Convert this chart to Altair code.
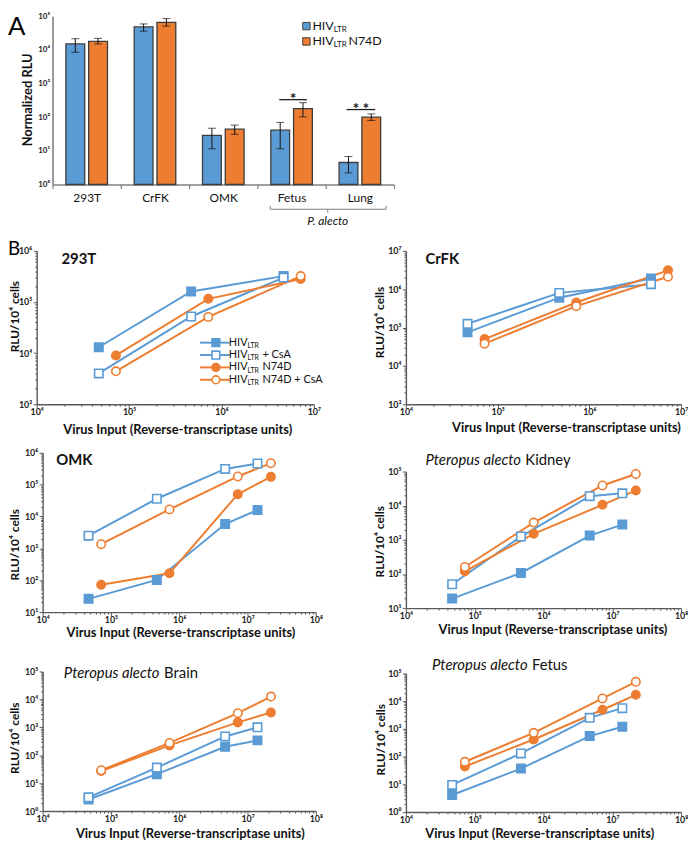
import altair as alt
import pandas as pd

FONT = "Lato"
BLUE = "#5B9BD5"
ORANGE = "#ED7D31"
AXC = "#595959"
W, H = 680, 830

# ---------------- Panel A data ----------------
cells = ["293T", "CrFK", "OMK", "Fetus", "Lung"]
series_A = ["HIV_LTR", "HIV_LTR N74D"]
hiv_mean = [1.5e4, 4.8e4, 29, 41, 4.5]
hiv_low = [8.5e3, 3.6e4, 11.5, 11.5, 2.2]
hiv_high = [2.15e4, 5.9e4, 47, 70, 6.8]
n74d_mean = [1.8e4, 6.6e4, 44, 180, 100]
n74d_low = [1.5e4, 5.1e4, 31, 102, 80]
n74d_high = [2.2e4, 8.5e4, 58, 270, 125]

# ---------------- Panel B data ----------------
series_B = ["HIV_LTR", "HIV_LTR + CsA", "HIV_LTR N74D", "HIV_LTR N74D + CsA"]
x_hiv_3 = [4.7e4, 4.7e5, 4.7e6]
x_n74d_3 = [7.2e4, 7.2e5, 7.2e6]
x_hiv_4 = [4.7e4, 4.7e5, 4.7e6, 1.4e7]
x_n74d_4 = [7.2e4, 7.2e5, 7.2e6, 2.2e7]

t293_hiv = [1.3e4, 1.6e5, 3.2e5]
t293_hiv_csa = [4.0e3, 5.2e4, 3.0e5]
t293_n74d = [9.0e3, 1.15e5, 2.8e5]
t293_n74d_csa = [4.4e3, 5.1e4, 3.2e5]

crfk_hiv = [7.5e4, 6.0e5, 1.9e6]
crfk_hiv_csa = [1.25e5, 8.0e5, 1.35e6]
crfk_n74d = [5.0e4, 4.5e5, 3.1e6]
crfk_n74d_csa = [3.8e4, 3.6e5, 2.1e6]

omk_hiv = [26, 102, 5.8e3, 1.6e4]
omk_hiv_csa = [2.5e3, 3.6e4, 3.1e5, 4.6e5]
omk_n74d = [72, 165, 5.0e4, 1.75e5]
omk_n74d_csa = [1.35e3, 1.66e4, 1.8e5, 4.7e5]

kid_hiv = [19, 107, 1.33e3, 2.8e3]
kid_hiv_csa = [50, 1.25e3, 1.9e4, 2.3e4]
kid_n74d = [120, 1.5e3, 1.06e4, 2.8e4]
kid_n74d_csa = [160, 3.2e3, 3.9e4, 8.5e4]

brain_hiv = [2.6, 21, 200, 340]
brain_hiv_csa = [3.1, 36, 470, 1.0e3]
brain_n74d = [27, 225, 1.5e3, 3.4e3]
brain_n74d_csa = [29, 275, 3.2e3, 1.26e4]

fetus_hiv = [4.1, 37, 550, 1.2e3]
fetus_hiv_csa = [9.5, 130, 2.5e3, 5.6e3]
fetus_n74d = [44, 415, 4.9e3, 1.7e4]
fetus_n74d_csa = [65, 720, 1.25e4, 5.0e4]

LABEL = ("'10' + substring('⁰¹²³⁴⁵⁶⁷⁸⁹', round(log(datum.value)/LN10), "
         "round(log(datum.value)/LN10) + 1)")


def majors(lo, hi):
    return [10.0 ** k for k in range(lo, hi + 1)]


def minors(lo, hi):
    return [m * 10.0 ** k for k in range(lo, hi) for m in range(2, 10)]


def one():
    return pd.DataFrame({"d": [0]})


def text(label, x, y, size=12, weight="normal", style="normal", align="left",
         baseline="middle", color="#111111"):
    return alt.Chart(pd.DataFrame({"t": [label]})).mark_text(
        align=align, baseline=baseline, fontSize=size, fontWeight=weight,
        fontStyle=style, font=FONT, color=color
    ).encode(x=alt.value(x), y=alt.value(y), text="t:N")


def seg(x1, y1, x2, y2, color="#111111", width=1.0):
    return alt.Chart(one()).mark_rule(color=color, strokeWidth=width).encode(
        x=alt.value(x1), x2=alt.value(x2), y=alt.value(y1), y2=alt.value(y2))


def marker(x, y, shape, fill, stroke, size, sw=1.5):
    return alt.Chart(one()).mark_point(shape=shape, fill=fill, stroke=stroke, size=size,
                                       strokeWidth=sw, opacity=1, filled=False).encode(
        x=alt.value(x), y=alt.value(y))


# ---------------- Panel A ----------------
dfA = pd.DataFrame({
    "cell": cells * 2,
    "series": [series_A[0]] * 5 + [series_A[1]] * 5,
    "val": hiv_mean + n74d_mean,
    "lo": hiv_low + n74d_low,
    "hi": hiv_high + n74d_high,
})
xA_scale = alt.Scale(domain=cells, range=[45, 390], paddingInner=0, paddingOuter=0)
xoff_scale = alt.Scale(domain=series_A, paddingInner=0.174, paddingOuter=0.587)
yA_scale = alt.Scale(type="log", domain=[1, 1e5], range=[173, 3], nice=False)
xA_axis = alt.Axis(orient="bottom", offset=173 - H, title=None, tickBand="extent",
                   tickSize=4, labelPadding=9, labelBaseline="middle", labelAngle=0,
                   labelFont=FONT, labelFontSize=12, labelColor="#111111",
                   domainColor="#808080", domainWidth=1.6, tickColor="#808080", tickWidth=1.2,
                   grid=False)
yA_axis = alt.Axis(orient="left", offset=-45, values=majors(0, 5),
                   labelExpr=LABEL, tickSize=0, labelPadding=3, labelFont=FONT,
                   labelFontSize=8, labelFontWeight="bold", labelColor="#222222",
                   labelOverlap=False, domainColor="#808080", domainWidth=1.6, grid=False,
                   title="Normalized RLU", titleFont=FONT, titleFontSize=13,
                   titleFontWeight="bold", titleColor="#111111", titleAngle=-90,
                   titleX=-25.5, titleY=87, titleAlign="center", titleBaseline="middle")

xA = alt.X("cell:N", scale=xA_scale, axis=xA_axis)
xoffA = alt.XOffset("series:N", scale=xoff_scale)
baseA = alt.Chart(dfA)
bars = baseA.mark_bar(stroke="#3d3d3d", strokeWidth=1.3).encode(
    x=xA, xOffset=xoffA,
    y=alt.Y("val:Q", scale=yA_scale, axis=yA_axis),
    y2=alt.datum(1),
    color=alt.Color("series:N", scale=alt.Scale(domain=series_A, range=[BLUE, ORANGE]), legend=None),
)
err = baseA.mark_rule(color="#111111", strokeWidth=1).encode(
    x=xA, xOffset=xoffA,
    y=alt.Y("lo:Q", scale=yA_scale, axis=yA_axis),
    y2="hi:Q",
)
cap_lo = baseA.mark_tick(color="#111111", thickness=1, size=8, orient="horizontal").encode(
    x=xA, xOffset=xoffA,
    y=alt.Y("lo:Q", scale=yA_scale, axis=yA_axis),
)
cap_hi = baseA.mark_tick(color="#111111", thickness=1, size=8, orient="horizontal").encode(
    x=xA, xOffset=xoffA,
    y=alt.Y("hi:Q", scale=yA_scale, axis=yA_axis),
)
panelA = alt.layer(bars, err, cap_lo, cap_hi)

annA = [
    text("A", 0, 22, size=26, baseline="alphabetic", color="#000000"),
    # bracket for P. alecto
    seg(265, 198, 382, 198, "#808080", 1),
    seg(265, 194.5, 265, 198, "#808080", 1),
    seg(382, 194.5, 382, 198, "#808080", 1),
    seg(323, 198, 323, 201.5, "#808080", 1),
    text("P. alecto", 323, 210, size=12, style="italic", align="center"),
    # significance
    seg(274, 87.3, 302, 87.3, "#222222", 1.3),
    text("*", 288, 92, size=15, weight="bold", align="center", baseline="alphabetic"),
    seg(342, 97.3, 371, 97.3, "#222222", 1.3),
    text("* *", 356.5, 102, size=15, weight="bold", align="center", baseline="alphabetic"),
    # legend A
    marker(301.5, 13, "square", BLUE, "#404040", 56, 1),
    marker(301.5, 28.5, "square", ORANGE, "#404040", 56, 1),
    text("HIV", 329, 13, size=12.5, align="right"),
    text("LTR", 329, 17, size=8),
    text("HIV", 329, 28.5, size=12.5, align="right"),
    text("LTR", 329, 32.5, size=8),
    text("N74D", 344, 28.5, size=12.5),
]


# ---------------- Panel B ----------------
def panel_B(xh, xn, vals, xexp, yexp, xr, yr, xt_x, xt_dy, yt_dx, yt_y):
    xs_list = [xh, xh, xn, xn]
    rows = []
    for s, xs, v in zip(series_B, xs_list, vals):
        for a, b in zip(xs, v):
            rows.append({"x": a, "y": b, "s": s})
    df = pd.DataFrame(rows)
    xscale = alt.Scale(type="log", domain=[10.0 ** xexp[0], 10.0 ** xexp[1]], range=xr, nice=False)
    yscale = alt.Scale(type="log", domain=[10.0 ** yexp[0], 10.0 ** yexp[1]], range=yr, nice=False)
    common = dict(labelFont=FONT, labelFontSize=9, labelFontWeight="bold", labelColor="#222222",
                  labelOverlap=False, labelFlush=False, domainColor=AXC, domainWidth=1.4,
                  tickColor=AXC, tickWidth=1, grid=False)
    xaxis = alt.Axis(orient="bottom", offset=yr[0] - H, values=majors(*xexp), labelExpr=LABEL,
                     tickSize=4, labelPadding=3.5, labelBaseline="middle",
                     title="Virus Input (Reverse-transcriptase units)", titleFont=FONT,
                     titleFontSize=13, titleFontWeight="bold", titleColor="#111111",
                     titleX=xt_x, titleY=xt_dy, titleAlign="center", titleBaseline="middle",
                     **common)
    yaxis = alt.Axis(orient="left", offset=-xr[0], values=majors(*yexp), labelExpr=LABEL,
                     tickSize=3.5, labelPadding=1.5, labelBaseline="middle",
                     title="RLU/10⁴ cells", titleFont=FONT, titleFontSize=12,
                     titleFontWeight="bold", titleColor="#111111", titleAngle=-90,
                     titleX=yt_dx, titleY=yt_y, titleAlign="center", titleBaseline="middle",
                     **common)
    xminor = alt.Axis(orient="bottom", offset=yr[0] - H, values=minors(*xexp), labels=False,
                      domain=False, tickSize=2, tickColor=AXC, tickWidth=1, grid=False, title=None)
    yminor = alt.Axis(orient="left", offset=-xr[0], values=minors(*yexp), labels=False,
                      domain=False, tickSize=2, tickColor=AXC, tickWidth=1, grid=False, title=None)
    base = alt.Chart(df)
    lines = base.mark_line(strokeWidth=2).encode(
        x=alt.X("x:Q", scale=xscale, axis=xaxis),
        y=alt.Y("y:Q", scale=yscale, axis=yaxis),
        color=alt.Color("s:N", scale=alt.Scale(domain=series_B, range=[BLUE, BLUE, ORANGE, ORANGE]),
                        legend=None),
    )
    pts = base.mark_point(size=72, strokeWidth=1.6, opacity=1).encode(
        x=alt.X("x:Q", scale=xscale, axis=xaxis),
        y=alt.Y("y:Q", scale=yscale, axis=yaxis),
        shape=alt.Shape("s:N", scale=alt.Scale(domain=series_B,
                                               range=["square", "square", "circle", "circle"]),
                        legend=None),
        stroke=alt.Stroke("s:N", scale=alt.Scale(domain=series_B,
                                                 range=[BLUE, BLUE, ORANGE, ORANGE]), legend=None),
        fill=alt.Fill("s:N", scale=alt.Scale(domain=series_B,
                                             range=[BLUE, "#ffffff", ORANGE, "#ffffff"]), legend=None),
    )
    minor = base.mark_point(opacity=0).encode(
        x=alt.X("x:Q", scale=xscale, axis=xminor),
        y=alt.Y("y:Q", scale=yscale, axis=yminor),
    )
    return alt.layer(lines, pts), minor


p293 = panel_B(x_hiv_3, x_n74d_3, [t293_hiv, t293_hiv_csa, t293_n74d, t293_n74d_csa],
               (4, 7), (3, 6), [29, 309], [395, 240], 171, 25.3, -22.5, 306)
pcrfk = panel_B(x_hiv_3, x_n74d_3, [crfk_hiv, crfk_hiv_csa, crfk_n74d, crfk_n74d_csa],
                (4, 7), (3, 7), [402, 680], [395, 240], 563.7, 23.7, -27, 312)
pomk = panel_B(x_hiv_4, x_n74d_4, [omk_hiv, omk_hiv_csa, omk_n74d, omk_n74d_csa],
               (4, 8), (1, 6), [35, 311], [605, 444], 174.2, 20.5, -28.5, 536.5)
pkid = panel_B(x_hiv_4, x_n74d_4, [kid_hiv, kid_hiv_csa, kid_n74d, kid_n74d_csa],
               (4, 8), (1, 5), [402, 680], [601, 463], 550, 21.7, -27, 533.5)
pbrain = panel_B(x_hiv_4, x_n74d_4, [brain_hiv, brain_hiv_csa, brain_n74d, brain_n74d_csa],
                 (4, 8), (0, 5), [35, 311], [806, 665], 183.7, 22.7, -28.5, 732)
pfetus = panel_B(x_hiv_4, x_n74d_4, [fetus_hiv, fetus_hiv_csa, fetus_n74d, fetus_n74d_csa],
                 (4, 8), (0, 5), [402, 680], [807, 667], 536.7, 21.7, -26, 733.5)

panels_B = []
for main, minor in [p293, pcrfk, pomk, pkid, pbrain, pfetus]:
    panels_B += [minor, main]

annB = [
    text("B", 0, 244, size=19, baseline="alphabetic", color="#000000"),
    text("293T", 54, 248, size=15, weight="bold"),
    text("CrFK", 421.7, 248, size=15, weight="bold"),
    text("OMK", 48.7, 451.3, size=15, weight="bold"),
    text("Pteropus alecto", 518.3, 451.3, size=15, style="italic", align="right"),
    text("Kidney", 522.7, 451.3, size=15),
    text("Pteropus alecto", 153, 667, size=15, style="italic", align="right"),
    text("Brain", 157.7, 667, size=15),
    text("Pteropus alecto", 525, 658.7, size=15, style="italic", align="right"),
    text("Fetus", 529.3, 658.7, size=15),
]

leg_rows = [332.8, 345.3, 357.8, 370.3]
leg_style = [("square", BLUE, BLUE, 62), ("square", "#ffffff", BLUE, 62),
             ("circle", ORANGE, ORANGE, 62), ("circle", "#ffffff", ORANGE, 62)]
leg_suffix = ["", "+ CsA", "N74D", "N74D + CsA"]
legB = []
for yy, (shp, fl, st, sz), suf in zip(leg_rows, leg_style, leg_suffix):
    legB.append(seg(194, yy, 224, yy, st, 2))
    legB.append(marker(210, yy, shp, fl, st, sz, 1.6))
    legB.append(text("HIV", 242, yy, size=11, align="right"))
    legB.append(text("LTR", 242, yy + 3.5, size=7))
    if suf:
        legB.append(text(suf, 257, yy, size=11))

chart = alt.layer(
    panelA, *panels_B, *annA, *annB, *legB
).resolve_scale(
    x="independent", y="independent", color="independent", stroke="independent",
    fill="independent", shape="independent", xOffset="independent"
).properties(
    width=W, height=H, padding=0
).configure_view(stroke=None)

chart.save("out.html", embed_options={"renderer": "svg", "actions": False})
